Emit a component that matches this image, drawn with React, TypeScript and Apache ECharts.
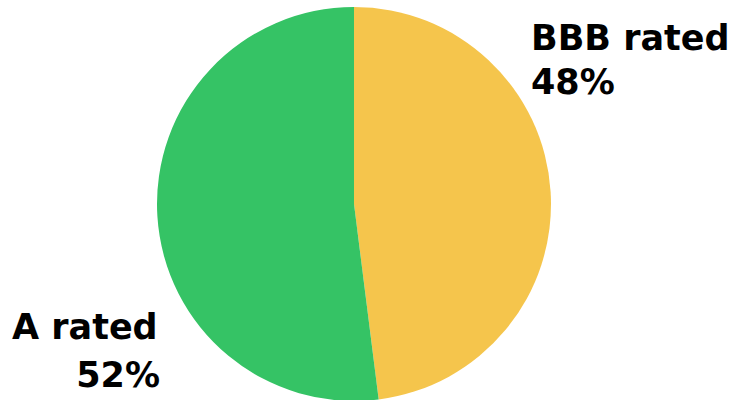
import React, { useEffect, useRef } from "react";
import * as echarts from "echarts";

const categories = ["BBB rated", "A rated"];
const values = [48, 52];
const colors = ["#F5C54C", "#35C365"];

export default function App() {
  const ref = useRef<HTMLDivElement>(null);
  useEffect(() => {
    if (!ref.current) return;
    const chart = echarts.init(ref.current, null, { renderer: "svg" });
    const font = '"DejaVu Sans", "Liberation Sans", Arial, sans-serif';
    const txt = (s: string, x: number, y: number, align: string) => ({
      type: "text",
      x,
      y,
      style: {
        text: s,
        fontFamily: font,
        fontWeight: "bold",
        fontSize: 35,
        fill: "#000",
        align,
        verticalAlign: "middle",
      },
    });
    chart.setOption({
      animation: false,
      backgroundColor: "#fff",
      series: [
        {
          type: "pie",
          center: [354, 204],
          radius: 197,
          startAngle: 90,
          clockwise: true,
          label: { show: false },
          labelLine: { show: false },
          emphasis: { disabled: true },
          itemStyle: { borderWidth: 0 },
          data: categories.map((c, i) => ({
            name: c,
            value: values[i],
            itemStyle: { color: colors[i] },
          })),
        },
      ],
      graphic: [
        txt(categories[0], 531, 38, "left"),
        txt(values[0] + "%", 531, 82, "left"),
        txt(categories[1], 12, 327, "left"),
        txt(values[1] + "%", 160, 375, "right"),
      ],
    });
    return () => chart.dispose();
  }, []);
  return (
    <div
      ref={ref}
      style={{ position: "fixed", left: 0, top: 0, width: 742, height: 400 }}
    />
  );
}
